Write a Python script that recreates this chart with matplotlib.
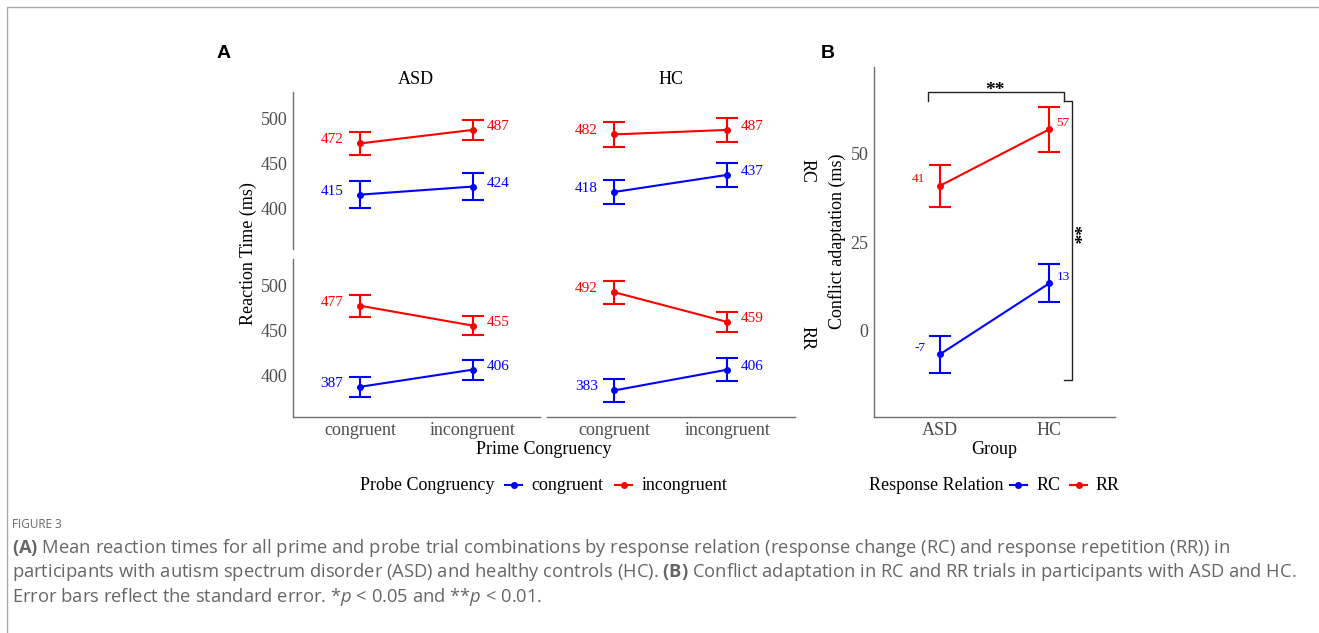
import matplotlib.pyplot as plt
from matplotlib.lines import Line2D

# ---- data ----
prime_levels = ['congruent', 'incongruent']
group_levels = ['ASD', 'HC']
relation_levels = ['RC', 'RR']
probe_levels = ['congruent', 'incongruent']

# mean reaction time (ms) for congruent / incongruent prime, *_se = standard error
asd_rc_con = [415, 424]
asd_rc_con_se = [15, 15]
asd_rc_inc = [472, 487]
asd_rc_inc_se = [12.5, 11]
hc_rc_con = [418, 437]
hc_rc_con_se = [13, 13]
hc_rc_inc = [482, 487]
hc_rc_inc_se = [13.5, 13]
asd_rr_con = [387, 406]
asd_rr_con_se = [11, 11.3]
asd_rr_inc = [477, 455]
asd_rr_inc_se = [12.3, 10.6]
hc_rr_con = [383, 406]
hc_rr_con_se = [12.4, 12.8]
hc_rr_inc = [492, 459]
hc_rr_inc_se = [12.8, 11.3]

# conflict adaptation (ms) for ASD / HC
ca_rc = [-6.6, 13.4]
ca_rc_se = [5.3, 5.3]
ca_rr = [40.8, 56.7]
ca_rr_se = [5.9, 6.3]

# ---- style ----
plt.rcParams['font.family'] = ['Liberation Serif', 'DejaVu Serif']
plt.rcParams['mathtext.fontset'] = 'custom'
plt.rcParams['mathtext.rm'] = 'Open Sans'
plt.rcParams['mathtext.it'] = 'Open Sans:italic'
plt.rcParams['mathtext.bf'] = 'Open Sans:bold'

BLUE, RED = '#0000FF', '#FF0000'
AXC = '#6E6E6E'
TICKC = '#4D4D4D'
CAPC = '#666666'

W, H = 1319, 633
fig = plt.figure(figsize=(W / 100, H / 100), dpi=100)


def add_ax(x0, y0, x1, y1):
    return fig.add_axes([x0 / W, 1 - y1 / H, (x1 - x0) / W, (y1 - y0) / H])


def style_ax(ax, left, bottom):
    ax.spines['top'].set_visible(False)
    ax.spines['right'].set_visible(False)
    ax.spines['left'].set_visible(left)
    ax.spines['bottom'].set_visible(bottom)
    for s in ['left', 'bottom']:
        ax.spines[s].set_color(AXC)
        ax.spines[s].set_linewidth(1.0)
    ax.tick_params(length=0, labelsize=13, labelcolor=TICKC, pad=4,
                   labelleft=left, labelbottom=bottom)
    ax.patch.set_alpha(0)


def series(ax, y, se, color, offs, size):
    x = [1, 2]
    ax.errorbar(x, y, yerr=se, color=color, lw=1.5, capsize=8, capthick=1.5,
                marker='o', ms=4, clip_on=False)
    for xi, yi, (dx, dy) in zip(x, y, offs):
        ax.annotate(f'{yi:.0f}', (xi, yi), xytext=(dx, dy), textcoords='offset points',
                    ha='right' if dx < 0 else 'left', va='center', color=color, fontsize=size)


# ---- panel A: facets ----
cols = {'ASD': (292.7, 540), 'HC': (546.7, 795)}
rows = {'RC': (91.7, 249.5), 'RR': (258.5, 416.5)}
facets = {
    ('RC', 'ASD'): (asd_rc_con, asd_rc_con_se, asd_rc_inc, asd_rc_inc_se),
    ('RC', 'HC'): (hc_rc_con, hc_rc_con_se, hc_rc_inc, hc_rc_inc_se),
    ('RR', 'ASD'): (asd_rr_con, asd_rr_con_se, asd_rr_inc, asd_rr_inc_se),
    ('RR', 'HC'): (hc_rr_con, hc_rr_con_se, hc_rr_inc, hc_rr_inc_se),
}
a_offs = [(-12, 2.5), (10, 2.5)]
for rel in relation_levels:
    for grp in group_levels:
        x0, x1 = cols[grp]
        y0, y1 = rows[rel]
        ax = add_ax(x0, y0, x1, y1)
        con, con_se, inc, inc_se = facets[(rel, grp)]
        series(ax, con, con_se, BLUE, a_offs, 11)
        series(ax, inc, inc_se, RED, a_offs, 11)
        ax.set_xlim(0.4, 2.6)
        ax.set_ylim(354, 529.5)
        ax.set_xticks([1, 2], prime_levels)
        ax.set_yticks([400, 450, 500])
        style_ax(ax, left=(grp == 'ASD'), bottom=(rel == 'RR'))

for grp in group_levels:
    x0, x1 = cols[grp]
    fig.text((x0 + x1) / 2 / W, 1 - 80 / H, grp, ha='center', va='center', fontsize=13)
for rel in relation_levels:
    y0, y1 = rows[rel]
    fig.text(807 / W, 1 - (y0 + y1) / 2 / H, rel, ha='center', va='center',
             rotation=-90, fontsize=13)

fig.text(248 / W, 1 - 254 / H, 'Reaction Time (ms)', rotation=90, ha='center',
         va='center', fontsize=13)
fig.text(543.5 / W, 1 - 449 / H, 'Prime Congruency', ha='center', va='center', fontsize=13)

# ---- panel B ----
axb = add_ax(874, 66.7, 1115, 416.7)
b_offs = [(-10.5, 5), (5.3, 4.5)]
series(axb, ca_rc, ca_rc_se, BLUE, b_offs, 9.5)
series(axb, ca_rr, ca_rr_se, RED, b_offs, 9.5)
axb.set_xlim(0.4, 2.6)
axb.set_ylim(-24.1, 74.3)
axb.set_xticks([1, 2], group_levels)
axb.set_yticks([0, 25, 50])
style_ax(axb, True, True)

# significance brackets
kb = dict(color='#222222', lw=1.0, clip_on=False)
axb.plot([0.89, 0.89, 2.13, 2.13], [64.7, 67.3, 67.3, 64.7], **kb)
axb.plot([2.13, 2.21, 2.21, 2.13], [64.7, 64.7, -13.9, -13.9], **kb)
axb.text(1.5, 65.3, '**', ha='center', va='bottom', fontsize=14, fontweight='bold')
axb.text(2.13, 27, '**', ha='left', va='center', rotation=-90, fontsize=14,
         fontweight='bold')

fig.text(837.5 / W, 1 - 241.7 / H, 'Conflict adaptation (ms)', rotation=90,
         ha='center', va='center', fontsize=13)
fig.text(994.5 / W, 1 - 449 / H, 'Group', ha='center', va='center', fontsize=13)


# ---- legends ----
def legend_key(xc, yc, color):
    fig.add_artist(Line2D([(xc - 8.5) / W, (xc + 8.5) / W], [1 - yc / H] * 2,
                          color=color, lw=1.5))
    fig.add_artist(Line2D([xc / W], [1 - yc / H], color=color, marker='o', ms=4, lw=0))


ly = 485
fig.text(360.5 / W, 1 - ly / H, 'Probe Congruency', ha='left', va='center', fontsize=13)
legend_key(513.5, ly, BLUE)
fig.text(531 / W, 1 - ly / H, probe_levels[0], ha='left', va='center', fontsize=13)
legend_key(623.5, ly, RED)
fig.text(641.5 / W, 1 - ly / H, probe_levels[1], ha='left', va='center', fontsize=13)

fig.text(869 / W, 1 - ly / H, 'Response Relation', ha='left', va='center', fontsize=13)
legend_key(1018, ly, BLUE)
fig.text(1037 / W, 1 - ly / H, relation_levels[0], ha='left', va='center', fontsize=13)
legend_key(1078.5, ly, RED)
fig.text(1096 / W, 1 - ly / H, relation_levels[1], ha='left', va='center', fontsize=13)

# panel letters
fig.text(224 / W, 1 - 54 / H, 'A', ha='center', va='center', fontsize=14,
         fontweight='bold', family='Liberation Sans')
fig.text(827.5 / W, 1 - 54 / H, 'B', ha='center', va='center', fontsize=14,
         fontweight='bold', family='Liberation Sans')

# ---- caption and frame ----
fig.add_artist(Line2D([6.5 / W, 6.5 / W, 1], [0, 1 - 6.5 / H, 1 - 6.5 / H],
                      color='#ABABAB', lw=1.0))
cap = dict(ha='left', va='center', color=CAPC, family='Open Sans')
fig.text(12 / W, 1 - 524 / H, 'FIGURE 3', fontsize=8.5, **cap)
fig.text(12 / W, 1 - 548 / H,
         r'$\mathbf{(A)}$ Mean reaction times for all prime and probe trial combinations by '
         r'response relation (response change (RC) and response repetition (RR)) in',
         fontsize=13.2, **cap)
fig.text(12 / W, 1 - 572 / H,
         r'participants with autism spectrum disorder (ASD) and healthy controls (HC). '
         r'$\mathbf{(B)}$ Conflict adaptation in RC and RR trials in participants with ASD and HC.',
         fontsize=13.2, **cap)
fig.text(12 / W, 1 - 597 / H,
         r'Error bars reflect the standard error. *$\mathit{p}$ < 0.05 and **$\mathit{p}$ < 0.01.',
         fontsize=13.2, **cap)

fig.savefig('out.png', dpi=100)
